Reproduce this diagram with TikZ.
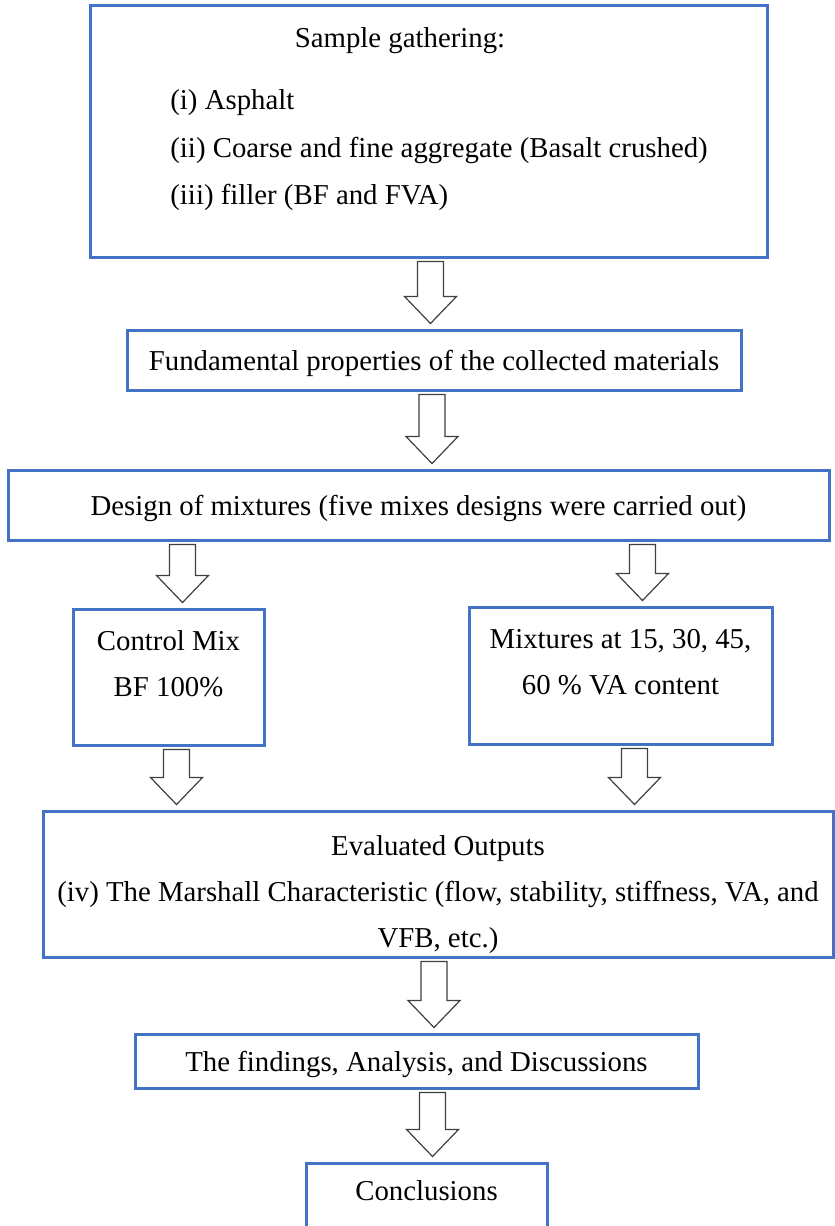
\documentclass[tikz,border=0pt]{standalone}
\usepackage{fontspec}
\setmainfont{Liberation Serif}
\usetikzlibrary{calc}
\definecolor{boxblue}{HTML}{4472C4}
\definecolor{arrowgray}{HTML}{3F3F3F}
\tikzset{
  flowbox/.style={draw=boxblue, line width=1.5pt, inner sep=0pt},
  boxtext/.style={inner sep=0pt, align=center, text depth=0pt, font=\fontsize{14.4}{23}\selectfont},
  hollowarrow/.style={draw=arrowgray, line width=0.6pt, fill=white, line join=miter,
    to path={let \p1=(\tikztostart), \p2=(\tikztotarget) in
      (\x1-6.5pt,\y1-1.5pt) -- (\x1+6.5pt,\y1-1.5pt) -- (\x1+6.5pt,\y2+16pt)
      -- (\x1+13pt,\y2+16pt) -- (\x1,\y2+2.5pt) -- (\x1-13pt,\y2+16pt)
      -- (\x1-6.5pt,\y2+16pt) -- cycle}}
}
\begin{document}
\begin{tikzpicture}[x=0.5pt, y=-0.5pt]
      \useasboundingbox (0,0) rectangle (835,1226);
      \clip (0,0) rectangle (835,1226);
      \node[flowbox, minimum width=338.5pt, minimum height=126pt] (sample) at (428.5,131) {};
      \node[boxtext] (sampletitle) at (400,38) {Sample gathering:};
      \node[boxtext, anchor=west] (asphalt) at (170,100) {(i) Asphalt};
      \node[boxtext, anchor=west] (aggregate) at (170,147) {(ii) Coarse and fine aggregate (Basalt crushed)};
      \node[boxtext, anchor=west] (filler) at (170,194) {(iii) filler (BF and FVA)};
      \node[flowbox, boxtext, minimum width=307pt, minimum height=30pt] (props) at (434,360)
        {Fundamental properties of the collected materials};
      \node[flowbox, boxtext, minimum width=410.5pt, minimum height=35pt] (design) at (418.5,505)
        {Design of mixtures (five mixes designs were carried out)};
      \node[flowbox, minimum width=95.5pt, minimum height=68pt] (ctrl) at (168.5,677) {};
      \node[boxtext] (ctrltext) at (168.5,664) {Control Mix\\BF 100\%};
      \node[flowbox, minimum width=151.5pt, minimum height=68.5pt] (mix) at (620.5,675.5) {};
      \node[boxtext] (mixtext) at (620.5,662) {Mixtures at 15, 30, 45,\\60 \% VA content};
      \node[flowbox, minimum width=395pt, minimum height=73pt] (eval) at (438,884) {};
      \node[boxtext] (evaltext) at (438,891)
        {Evaluated Outputs\\(iv) The Marshall Characteristic (flow, stability, stiffness, VA, and\\VFB, etc.)};
      \node[flowbox, boxtext, minimum width=281.5pt, minimum height=27pt] (findings) at (416.5,1061)
        {The findings, Analysis, and Discussions};
      \node[flowbox, minimum width=120.5pt, minimum height=48.5pt] (concl) at (426.5,1211.5) {};
      \node[boxtext] (concltext) at (426.5,1190) {Conclusions};
      \begin{scope}[hollowarrow]
        \draw ([xshift=1pt]sample.south) to (props.north);
        \draw ([xshift=-1pt]props.south) to (design.north);
        \draw ([xshift=7pt]ctrl.north |- design.south) to (ctrl.north);
        \draw ([xshift=11pt]mix.north |- design.south) to (mix.north);
        \draw ([xshift=4pt]ctrl.south) to (eval.north);
        \draw ([xshift=7pt]mix.south) to (eval.north);
        \draw ([xshift=-2pt]eval.south) to (findings.north);
        \draw ([xshift=8pt]findings.south) to (concl.north);
      \end{scope}
    \end{tikzpicture}
\end{document}
